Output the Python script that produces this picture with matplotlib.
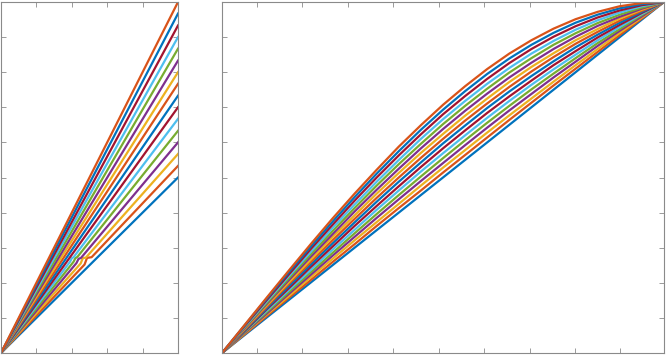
import matplotlib
matplotlib.use("Agg")
import matplotlib.pyplot as plt

# MATLAB default colour order
colors = ['#0072BD', '#D95319', '#EDB120', '#7E2F8E', '#77AC30', '#4DBEEE', '#A2142F']

# left panel: straight lines from origin, y value reached at x = 0.5
left_end = [0.5, 0.533, 0.567, 0.6, 0.633, 0.667, 0.7, 0.733,
            0.767, 0.8, 0.833, 0.867, 0.9, 0.933, 0.967, 1.0]
# small kinks seen on the lower lines (x, y points between origin and end)
kink_x = [[], [0.236, 0.243, 0.256], [0.225, 0.231, 0.240], [0.213, 0.219, 0.226],
          [0.205, 0.210, 0.216], [0.195, 0.200, 0.205]]
kink_y = [[], [0.252, 0.271, 0.273], [0.255, 0.270, 0.272], [0.256, 0.268, 0.271],
          [0.260, 0.270, 0.274], [0.260, 0.270, 0.273]]

# right panel: curves sampled at these x values
right_x = [0, .05, .1, .15, .2, .25, .3, .35, .4, .45, .5,
           .55, .6, .65, .7, .75, .8, .85, .9, .95, 1.0]
right_y = [
    [0, .050, .100, .150, .200, .250, .300, .350, .400, .450, .500, .550, .600, .650, .700, .750, .800, .850, .900, .950, 1],
    [0, .052, .104, .156, .207, .259, .310, .362, .413, .463, .514, .564, .614, .664, .713, .762, .810, .858, .906, .953, 1],
    [0, .054, .108, .161, .215, .268, .321, .373, .425, .477, .528, .578, .628, .677, .725, .773, .820, .866, .912, .956, 1],
    [0, .056, .111, .167, .222, .277, .331, .385, .438, .490, .541, .592, .642, .691, .738, .785, .830, .875, .918, .959, 1],
    [0, .058, .115, .172, .229, .285, .341, .396, .450, .503, .555, .606, .656, .704, .751, .796, .840, .883, .923, .963, 1],
    [0, .060, .119, .178, .236, .294, .351, .408, .463, .517, .569, .620, .670, .718, .764, .808, .850, .891, .929, .966, 1],
    [0, .061, .123, .183, .244, .303, .362, .419, .475, .530, .583, .634, .684, .731, .776, .820, .860, .899, .935, .969, 1],
    [0, .063, .126, .189, .251, .312, .372, .431, .488, .543, .597, .648, .698, .745, .789, .831, .871, .907, .941, .972, 1],
    [0, .065, .130, .195, .258, .321, .382, .442, .500, .556, .610, .662, .711, .758, .802, .843, .881, .915, .947, .975, 1],
    [0, .067, .134, .200, .265, .330, .392, .454, .513, .570, .624, .676, .725, .772, .815, .854, .891, .923, .953, .978, 1],
    [0, .069, .138, .206, .273, .338, .403, .465, .525, .583, .638, .690, .739, .785, .827, .866, .901, .932, .958, .981, 1],
    [0, .071, .141, .211, .280, .347, .413, .477, .538, .596, .652, .704, .753, .799, .840, .878, .911, .940, .964, .984, 1],
    [0, .073, .145, .217, .287, .356, .423, .488, .550, .610, .666, .718, .767, .812, .853, .889, .921, .948, .970, .988, 1],
    [0, .075, .149, .222, .295, .365, .434, .500, .563, .623, .680, .732, .781, .826, .866, .901, .931, .956, .976, .991, 1],
    [0, .077, .153, .228, .302, .374, .444, .511, .575, .636, .693, .746, .795, .839, .878, .912, .941, .964, .982, .994, 1],
    [0, .078, .156, .233, .309, .383, .454, .522, .588, .649, .707, .760, .809, .853, .891, .924, .951, .972, .988, .997, 1],
]
right_xticks = [0.079, 0.181, 0.285, 0.387, 0.491, 0.593, 0.697, 0.799, 0.9]

fig = plt.figure(figsize=(6.67, 3.57), dpi=100)
axL = fig.add_axes([1/667, 4/357, 177/667, 351/357])
axR = fig.add_axes([222/667, 4/357, 442/667, 351/357])

for k, e in enumerate(left_end):
    xs = [0] + (kink_x[k] if k < len(kink_x) else []) + [0.5]
    ys = [0] + (kink_y[k] if k < len(kink_y) else []) + [e]
    axL.plot(xs, ys, color=colors[k % 7], lw=1.6, solid_joinstyle='round')

for k, ys in enumerate(right_y):
    axR.plot(right_x, ys, color=colors[k % 7], lw=1.6, solid_joinstyle='round')

axL.set_xlim(0, 0.5)
axL.set_ylim(0, 1)
axL.set_xticks([0.1, 0.2, 0.3, 0.4])
axR.set_xlim(0, 1)
axR.set_ylim(0, 1)
axR.set_xticks(right_xticks)
for ax in (axL, axR):
    ax.set_yticks([0.1, 0.2, 0.3, 0.4, 0.5, 0.6, 0.7, 0.8, 0.9])
    ax.tick_params(direction='in', length=3.5, width=0.6, color='#8a8a8a',
                   top=True, right=True, labelbottom=False, labelleft=False)
    for s in ax.spines.values():
        s.set_color('#8a8a8a')
        s.set_linewidth(0.8)

fig.savefig("out.png", dpi=100)
